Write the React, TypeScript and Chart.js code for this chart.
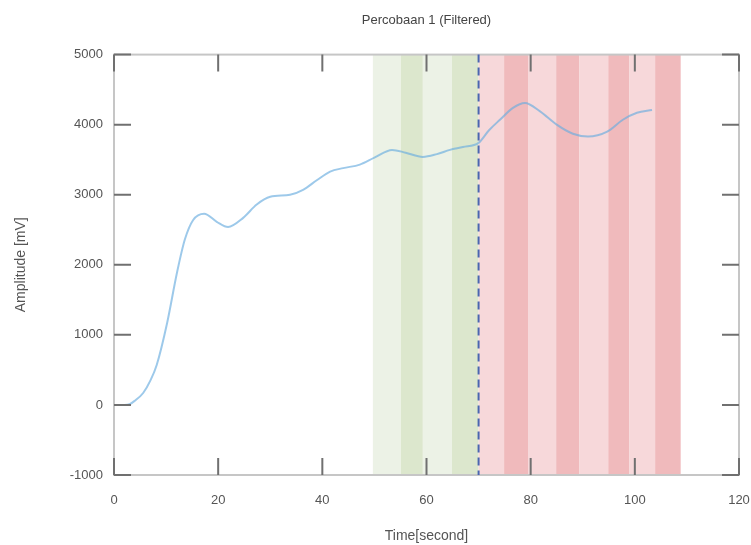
import React, { useEffect, useRef } from "react";
import { Chart, registerables } from "chart.js";

Chart.register(...registerables);

const titleText = "Percobaan 1 (Filtered)";
const xAxisTitle = "Time[second]";
const yAxisTitle = "Amplitude [mV]";

const timeValues = [0, 1, 2, 3, 4, 5.6, 7, 8.2, 10.2, 12.1, 13.6, 15.2, 17.3, 19.8, 21.9, 24.8, 27.4, 30, 33.8, 36.3, 39, 41.5, 44, 47.2, 50, 53.4, 56, 59.3, 62, 64.5, 67, 70, 72, 74.1, 76.6, 78.9, 81.8, 85, 88.1, 91, 94.7, 97.7, 100.4, 103.3];
const amplitudeValues = [0, 0, 0, 10, 60, 170, 350, 570, 1170, 1890, 2360, 2640, 2730, 2610, 2540, 2670, 2860, 2970, 3000, 3070, 3210, 3330, 3380, 3430, 3530, 3640, 3600, 3540, 3580, 3640, 3680, 3740, 3920, 4070, 4240, 4310, 4190, 4000, 3870, 3830, 3900, 4070, 4170, 4210];

// shaded bands: [start, end]
const greenBandStarts = [49.7, 55.1, 59.3, 64.9];
const greenBandEnds = [55.1, 59.3, 64.9, 70];
const greenBandColors = ["#ecf2e6", "#dce7cd", "#ecf2e6", "#dce7cd"];
const redBandStarts = [70, 74.9, 79.5, 84.9, 89.3, 94.9, 98.9, 103.9];
const redBandEnds = [74.9, 79.5, 84.9, 89.3, 94.9, 98.9, 103.9, 108.8];
const redBandColors = ["#f7d8da", "#f0babc", "#f7d8da", "#f0babc", "#f7d8da", "#f0babc", "#f7d8da", "#f0babc"];

const markerTime = 70;

const xMin = 0, xMax = 120, xStep = 20;
const yMin = -1000, yMax = 5000, yStep = 1000;

const fontFamily = "'Liberation Sans', Arial, sans-serif";

const overlayPlugin = {
  id: "overlay",
  beforeDatasetsDraw(chart: any) {
    const { ctx, chartArea, scales } = chart;
    const xs = scales.x;
    ctx.save();
    const drawBands = (starts: number[], ends: number[], colors: string[]) => {
      starts.forEach((s, i) => {
        const x0 = xs.getPixelForValue(s);
        const x1 = xs.getPixelForValue(ends[i]);
        ctx.fillStyle = colors[i];
        ctx.fillRect(x0, chartArea.top, x1 - x0, chartArea.bottom - chartArea.top);
      });
    };
    drawBands(greenBandStarts, greenBandEnds, greenBandColors);
    drawBands(redBandStarts, redBandEnds, redBandColors);
    ctx.restore();
  },
  afterDatasetsDraw(chart: any) {
    const { ctx, chartArea, scales } = chart;
    const xs = scales.x;
    const ys = scales.y;
    const { left, right, top, bottom } = chartArea;
    ctx.save();
    // frame
    ctx.strokeStyle = "#c6c6c6";
    ctx.lineWidth = 2;
    ctx.strokeRect(left, top, right - left, bottom - top);
    // tick marks inside
    ctx.strokeStyle = "#707070";
    ctx.lineWidth = 2;
    const len = 17;
    xs.ticks.forEach((t: any) => {
      const px = xs.getPixelForValue(t.value);
      ctx.beginPath();
      ctx.moveTo(px, bottom);
      ctx.lineTo(px, bottom - len);
      ctx.moveTo(px, top);
      ctx.lineTo(px, top + len);
      ctx.stroke();
    });
    ys.ticks.forEach((t: any) => {
      const py = ys.getPixelForValue(t.value);
      ctx.beginPath();
      ctx.moveTo(left, py);
      ctx.lineTo(left + len, py);
      ctx.moveTo(right, py);
      ctx.lineTo(right - len, py);
      ctx.stroke();
    });
    // dashed marker
    const mx = xs.getPixelForValue(markerTime);
    ctx.strokeStyle = "#4a66b0";
    ctx.lineWidth = 2;
    ctx.setLineDash([8, 5]);
    ctx.beginPath();
    ctx.moveTo(mx, top);
    ctx.lineTo(mx, bottom);
    ctx.stroke();
    ctx.restore();
  },
};

export default function App() {
  const canvasRef = useRef<HTMLCanvasElement>(null);

  useEffect(() => {
    if (!canvasRef.current) return;
    const points = timeValues.map((t, i) => ({ x: t, y: amplitudeValues[i] }));
    const chart = new Chart(canvasRef.current, {
      type: "line",
      data: {
        datasets: [
          {
            data: points,
            borderColor: "rgba(105,172,222,0.65)",
            borderWidth: 2,
            pointRadius: 0,
            cubicInterpolationMode: "monotone",
            fill: false,
          },
        ],
      },
      options: {
        animation: false,
        responsive: false,
        events: [],
        layout: { padding: { left: 0, right: 12, top: 0, bottom: 0 } },
        plugins: {
          legend: { display: false },
          tooltip: { enabled: false },
          title: {
            display: true,
            text: titleText,
            fullSize: false,
            color: "#444444",
            font: { family: fontFamily, size: 13, weight: "normal" },
            padding: { top: 13, bottom: 26 },
          },
        },
        scales: {
          x: {
            type: "linear",
            min: xMin,
            max: xMax,
            grid: { display: false, drawTicks: false },
            border: { display: false },
            ticks: {
              stepSize: xStep,
              color: "#555555",
              padding: 18,
              maxRotation: 0,
              font: { family: fontFamily, size: 13 },
              callback: (v: any) => String(v),
            },
            title: {
              display: true,
              text: xAxisTitle,
              color: "#555555",
              font: { family: fontFamily, size: 14 },
              padding: { top: 0, bottom: 0 },
            },
            afterFit(scale: any) {
              scale.height = 70;
              scale.paddingLeft = 0;
              scale.paddingRight = 0;
            },
          },
          y: {
            type: "linear",
            min: yMin,
            max: yMax,
            grid: { display: false, drawTicks: false },
            border: { display: false },
            ticks: {
              stepSize: yStep,
              color: "#555555",
              padding: 11,
              font: { family: fontFamily, size: 13 },
              callback: (v: any) => String(v),
            },
            title: {
              display: true,
              text: yAxisTitle,
              color: "#555555",
              font: { family: fontFamily, size: 14 },
              padding: { top: 13, bottom: 0 },
            },
            afterFit(scale: any) {
              scale.width = 114;
              scale.paddingTop = 0;
              scale.paddingBottom = 0;
            },
          },
        },
      },
      plugins: [overlayPlugin],
    });
    return () => chart.destroy();
  }, []);

  return (
    <div style={{ position: "fixed", left: 0, top: 0, width: 751, height: 545, background: "#ffffff" }}>
      <canvas ref={canvasRef} width={751} height={545} />
    </div>
  );
}
